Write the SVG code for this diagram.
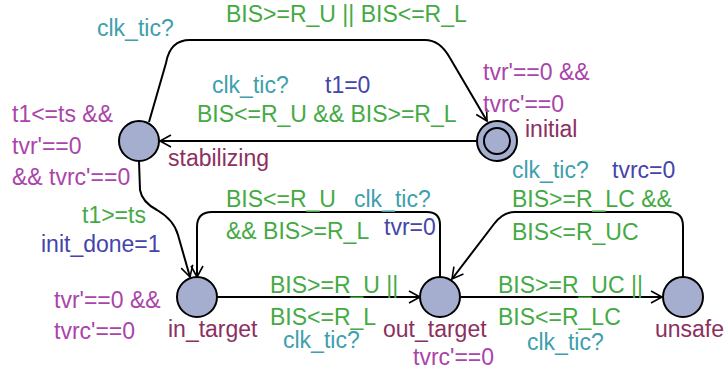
<svg xmlns="http://www.w3.org/2000/svg" width="725" height="373" viewBox="0 0 725 373">
<style>
text{font-family:"Liberation Sans",Arial,sans-serif;font-size:23px}
.g{fill:#44aa44}.c{fill:#3ea0ac}.b{fill:#4444aa}.p{fill:#aa44aa}.n{fill:#8b3060}
.loc{fill:#a6aed0;stroke:#000;stroke-width:2}
.e{fill:none;stroke:#000;stroke-width:2}
</style>
<defs>
<marker id="arr" markerWidth="14" markerHeight="14" refX="12" refY="7" orient="auto" markerUnits="userSpaceOnUse">
<path d="M1,1 L12,7 L1,13" fill="none" stroke="#000" stroke-width="1.6"/>
</marker>
</defs>
<rect width="725" height="373" fill="#fff"/>
<g id="connectors">
<path id="e_init_stab" class="e" d="M477,141 L160,141" marker-end="url(#arr)"/>
<path id="e_stab_init" class="e" d="M149,122 L166,63 Q170,40 190,40 L425,40 Q440,40 450,58 L487,121" marker-end="url(#arr)"/>
<path id="e_stab_in" class="e" d="M139,161 L140,190 Q142,202 157,210 Q174,220 178,235 L190,277" marker-end="url(#arr)"/>
<path id="e_out_in" class="e" d="M440,277 L440,225 Q440,212 427,212 L212,212 Q197,212 197,227 L197,277" marker-end="url(#arr)"/>
<path id="e_in_out" class="e" d="M217,297 L420,297" marker-end="url(#arr)"/>
<path id="e_out_unsafe" class="e" d="M461,297 L662,297" marker-end="url(#arr)"/>
<path id="e_unsafe_out" class="e" d="M683,277 L683,226 Q683,212 669,212 L515,212 Q503,212 494,224 L452,279" marker-end="url(#arr)"/>
</g>
<g id="labels">
<text x="97" y="36" class="c">clk_tic?</text>
<text x="226" y="22" class="g">BIS&gt;=R_U || BIS&lt;=R_L</text>
<text x="212" y="93" class="c">clk_tic?</text>
<text x="325" y="93" class="b">t1=0</text>
<text x="197" y="122" class="g">BIS&lt;=R_U &amp;&amp; BIS&gt;=R_L</text>
<text x="82" y="223" class="g">t1&gt;=ts</text>
<text x="41" y="252" class="b">init_done=1</text>
<text x="226" y="207" class="g">BIS&lt;=R_U</text>
<text x="354" y="207" class="c">clk_tic?</text>
<text x="226" y="239" class="g">&amp;&amp; BIS&gt;=R_L</text>
<text x="384" y="235" class="b">tvr=0</text>
<text x="270" y="293" class="g">BIS&gt;=R_U ||</text>
<text x="270" y="325" class="g">BIS&lt;=R_L</text>
<text x="283" y="348" class="c">clk_tic?</text>
<text x="498" y="293" class="g">BIS&gt;=R_UC ||</text>
<text x="498" y="325" class="g">BIS&lt;=R_LC</text>
<text x="527" y="350" class="c">clk_tic?</text>
<text x="512" y="178" class="c">clk_tic?</text>
<text x="612" y="178" class="b">tvrc=0</text>
<text x="512" y="207" class="g">BIS&gt;=R_LC &amp;&amp;</text>
<text x="512" y="240" class="g">BIS&lt;=R_UC</text>
</g>
<g id="stabilizing">
<circle class="loc" cx="139" cy="141" r="20"/>
<text x="168" y="166" class="n">stabilizing</text>
<text x="12" y="122" class="p">t1&lt;=ts &amp;&amp;</text>
<text x="12" y="154" class="p">tvr'==0</text>
<text x="12" y="185" class="p">&amp;&amp; tvrc'==0</text>
</g>
<g id="initial">
<circle class="loc" cx="497" cy="141" r="20"/>
<circle class="e" cx="497" cy="141" r="13"/>
<text x="525" y="137" class="n">initial</text>
<text x="483" y="80" class="p">tvr'==0 &amp;&amp;</text>
<text x="483" y="112" class="p">tvrc'==0</text>
</g>
<g id="in_target">
<circle class="loc" cx="197" cy="297" r="20"/>
<text x="168" y="337" class="n">in_target</text>
<text x="54" y="308" class="p">tvr'==0 &amp;&amp;</text>
<text x="54" y="339" class="p">tvrc'==0</text>
</g>
<g id="out_target">
<circle class="loc" cx="440" cy="297" r="20"/>
<text x="383" y="337" class="n">out_target</text>
<text x="413" y="365" class="p">tvrc'==0</text>
</g>
<g id="unsafe">
<circle class="loc" cx="683" cy="297" r="20"/>
<text x="655" y="337" class="n">unsafe</text>
</g>
</svg>
